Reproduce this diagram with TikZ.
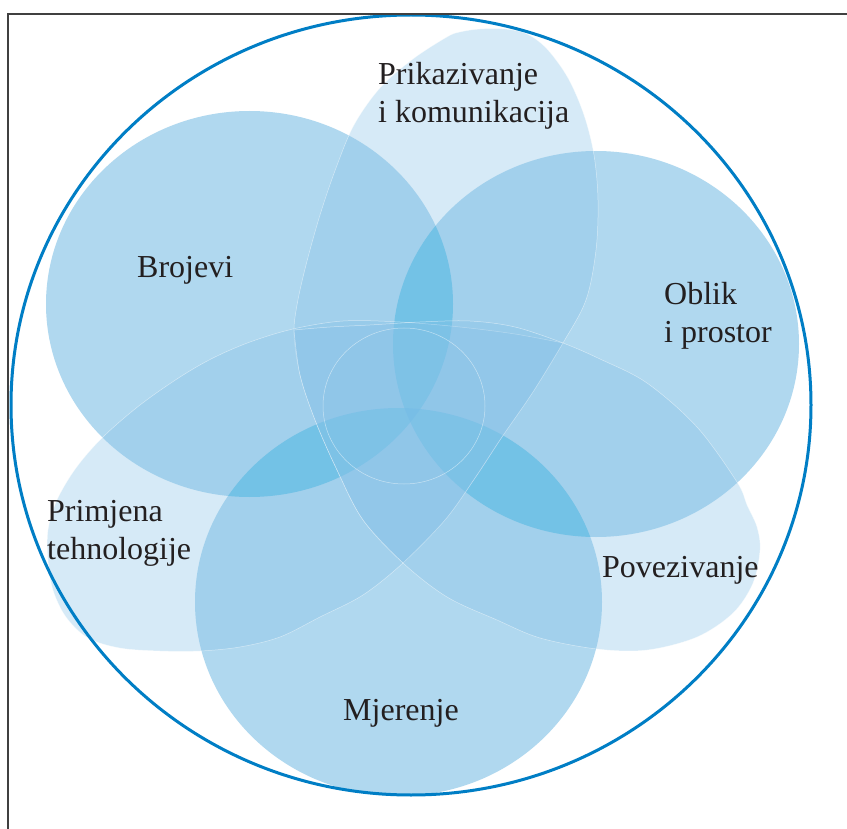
\documentclass[tikz,border=0pt]{standalone}
\usepackage{fontspec}
\setmainfont{Liberation Serif}
\definecolor{circ}{RGB}{176,216,239}
\definecolor{lens}{RGB}{106,194,229}
\definecolor{lensthree}{RGB}{84,184,226}
\definecolor{petal}{RGB}{135,194,232}
\definecolor{ring}{RGB}{0,126,197}
\definecolor{framec}{RGB}{64,64,64}
\definecolor{txt}{RGB}{35,31,32}
\tikzset{
  petalfill/.style={fill=petal, fill opacity=0.34, draw=white, draw opacity=0.5, line width=0.5pt},
  centrefill/.style={fill=petal, fill opacity=0.12, draw=white, draw opacity=0.5, line width=0.5pt},
  lbl/.style={anchor=base west, inner sep=0pt, text=txt, font=\fontsize{32}{38}\selectfont},
  framelines/.style={draw=framec, line width=1.3pt},
  outerring/.style={draw=ring, line width=3pt}
}
\begin{document}
\begin{tikzpicture}[x=1pt,y=-1pt]
\useasboundingbox (0,0) rectangle (847,829);
\fill[white] (0,0) rectangle (847,829);

% three content circles
\fill[circ] (249.5,304) ellipse [x radius=203.5pt, y radius=193pt];
\fill[circ] (596,344) ellipse [x radius=203pt, y radius=193pt];
\fill[circ] (398.5,602) ellipse [x radius=203.5pt, y radius=194pt];

% pairwise overlaps
\begin{scope}
  \clip (249.5,304) ellipse [x radius=203.5pt, y radius=193pt];
  \fill[lens] (596,344) ellipse [x radius=203pt, y radius=193pt];
  \fill[lens] (398.5,602) ellipse [x radius=203.5pt, y radius=194pt];
\end{scope}
\begin{scope}
  \clip (596,344) ellipse [x radius=203pt, y radius=193pt];
  \fill[lens] (398.5,602) ellipse [x radius=203.5pt, y radius=194pt];
\end{scope}
\begin{scope}
  \clip (249.5,304) ellipse [x radius=203.5pt, y radius=193pt];
  \clip (596,344) ellipse [x radius=203pt, y radius=193pt];
  \fill[lensthree] (398.5,602) ellipse [x radius=203.5pt, y radius=194pt];
\end{scope}

% top petal (Prikazivanje i komunikacija)
\path[petalfill] plot[smooth, tension=0.55] coordinates {
  (403,563) (445,520) (475,478) (502,437) (533,392) (563,343) (586,300)
  (596,250) (598,200) (594,155) (584,115) (568,78) (547,49) (527,34)
  (505,29) (480,29) (460,32) (447,37) (413,59) (380,88) (354,125)
  (336,168) (320,215) (306,265) (297,305) (294,335) (300,375) (315,420)
  (337,470) (363,520) (403,563)} -- cycle;

% left petal (Primjena tehnologije)
\path[petalfill] plot[smooth, tension=0.55] coordinates {
  (563,343) (533,392) (502,437) (475,478) (445,520) (403,563) (363,595)
  (320,617) (280,637) (240,647) (200,651) (160,651) (120,648) (88,638)
  (66,617) (53,590) (48,560) (48,530) (57,500) (76,468) (103,437)
  (140,405) (180,377) (213,358) (250,342) (293,329) (343,321) (400,322)
  (460,327) (515,334) (563,343)} -- cycle;

% right petal (Povezivanje)
\path[petalfill] plot[smooth, tension=0.55] coordinates {
  (294,330) (300,375) (315,420) (337,470) (363,520) (403,563) (447,597)
  (497,620) (540,638) (597,649) (647,650) (697,637) (733,613) (753,583)
  (760,550) (757,527) (747,505) (737,482) (697,427) (647,383) (600,359)
  (563,343) (515,327) (470,321) (420,322) (370,325) (330,327) (294,330)} -- cycle;

% central circle
\path[centrefill] (404,406) ellipse [x radius=81pt, y radius=78pt];

% outer ring
\draw[outerring] (411,405) ellipse [x radius=400pt, y radius=390pt];

% frame
\coordinate (fbl) at (8,829);
\coordinate (ftl) at (8,14);
\coordinate (ftr) at (847,14);
\draw[framelines] (fbl) -- (ftl) -- (ftr);

% labels
\node[lbl] (prik1) at (378,85) {Prikazivanje};
\node[lbl] (prik2) at (378,123) {i komunikacija};
\node[lbl] (broj) at (137,278) {Brojevi};
\node[lbl] (obl1) at (664,305) {Oblik};
\node[lbl] (obl2) at (664,343) {i prostor};
\node[lbl] (prim1) at (47,521) {Primjena};
\node[lbl] (prim2) at (47,559) {tehnologije};
\node[lbl] (pov) at (602,577) {Povezivanje};
\node[lbl] (mjer) at (343,720) {Mjerenje};
\end{tikzpicture}
\end{document}
